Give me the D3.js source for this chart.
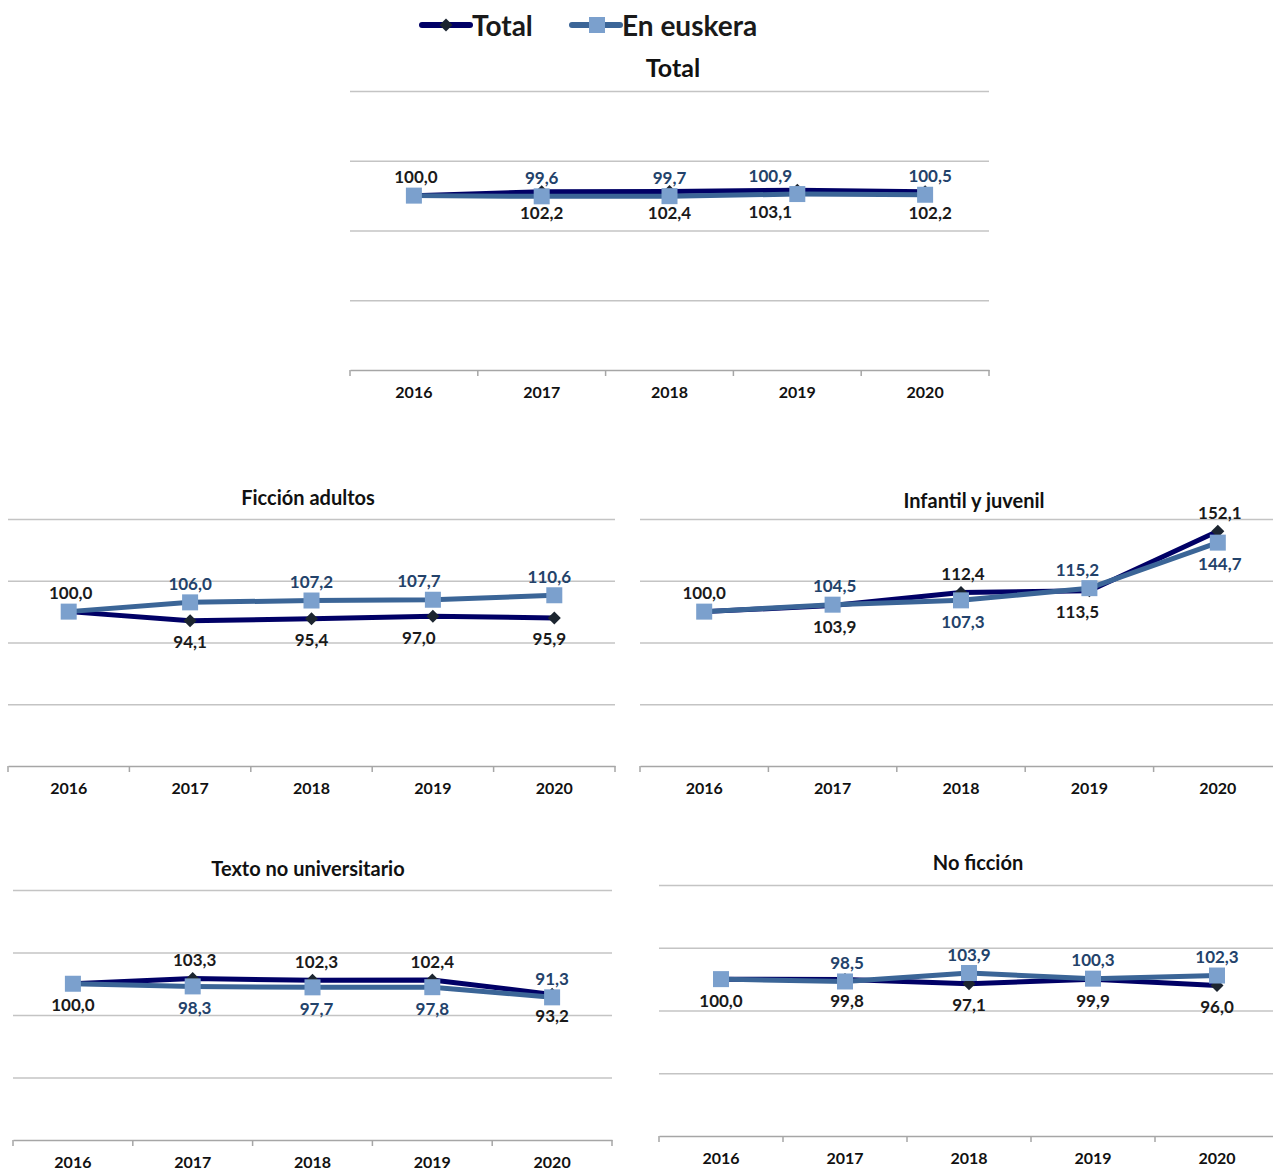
<!DOCTYPE html>
<html>
<head>
<meta charset="UTF-8"/>
<script src="https://cdn.jsdelivr.net/npm/d3@7"></script>
<style>
body{margin:0;background:#fff;}
text{font-family:Lato,"Open Sans",sans-serif;font-weight:bold;}
</style>
</head>
<body>
<script>
// datos
const years = ["2016","2017","2018","2019","2020"];
const yTicks = [40,80,120,160];
const seriesNames = ["Total","En euskera"];

const totalTotal   = [100.0,102.2,102.4,103.1,102.2];
const euskTotal    = [100.0, 99.6, 99.7,100.9,100.5];
const totalFiccion = [100.0, 94.1, 95.4, 97.0, 95.9];
const euskFiccion  = [100.0,106.0,107.2,107.7,110.6];
const totalInfant  = [100.0,103.9,112.4,113.5,152.1];
const euskInfant   = [100.0,104.5,107.3,115.2,144.7];
const totalTexto   = [100.0,103.3,102.3,102.4, 93.2];
const euskTexto    = [100.0, 98.3, 97.7, 97.8, 91.3];
const totalNoFic   = [100.0, 99.8, 97.1, 99.9, 96.0];
const euskNoFic    = [100.0, 98.5,103.9,100.3,102.3];

const colTotal = "#000066", colEusk = "#3b6597";
const mkTotal = "#1c2530", mkEusk = "#7ba0cd";
const lblTotal = "#1a1a1a", lblEusk = "#23426a";

// a: encima, b: debajo; el primer punto (100,0) lleva una sola etiqueta
const panels = [
  {title:"Total", tot:totalTotal, eus:euskTotal, x0:350, x1:989, y0:91, y1:370, tx:673, ty:67, tsize:25,
   lt:["a","b","b","b","b"], le:["-","a","a","a","a"], dx:[2,0,0,-27,5]},
  {title:"Ficción adultos", tot:totalFiccion, eus:euskFiccion, x0:8, x1:615, y0:519, y1:766, tx:308, ty:497, tsize:20,
   lt:["a","b","b","b","b"], le:["-","a","a","a","a"], dx:[2,0,0,-14,-5]},
  {title:"Infantil y juvenil", tot:totalInfant, eus:euskInfant, x0:640, x1:1282, y0:519, y1:766, tx:974, ty:500, tsize:20,
   lt:["a","b","a","b","a"], le:["-","a","b","a","b"], dx:[0,2,2,-12,2]},
  {title:"Texto no universitario", tot:totalTexto, eus:euskTexto, x0:13, x1:612, y0:890, y1:1140, tx:308, ty:868, tsize:20,
   lt:["b","a","a","a","b"], le:["-","b","b","b","a"], dx:[0,2,4,0,0]},
  {title:"No ficción", tot:totalNoFic, eus:euskNoFic, x0:659, x1:1279, y0:885, y1:1136, tx:978, ty:862, tsize:20,
   lt:["b","b","b","b","b"], le:["-","a","a","a","a"], dx:[0,2,0,0,0]}
];

const diamond = d3.symbol(d3.symbolSquare, 85)();

const svg = d3.select("body").append("svg")
  .attr("width",1273).attr("height",1173);

// leyenda
const leg = svg.append("g").attr("class","legend");
[[422,colTotal,"diamond"],[572,colEusk,"square"]].forEach(function(d,i){
  const g = leg.append("g").attr("transform","translate("+d[0]+",25)");
  g.append("line").attr("x1",0).attr("x2",48).attr("stroke",d[1]).attr("stroke-width",6).attr("stroke-linecap","round");
  if(d[2]=="diamond"){
    g.append("path").attr("d",diamond).attr("transform","translate(24,0) rotate(45)").attr("fill",mkTotal);
  } else {
    g.append("rect").attr("x",17).attr("y",-8).attr("width",16).attr("height",16).attr("fill",mkEusk);
  }
  g.append("text").attr("x",50).attr("y",0).attr("dominant-baseline","central")
    .attr("font-size",28).attr("fill","#1a1a1a").text(seriesNames[i]);
});

panels.forEach(function(p){
  const x = d3.scaleBand().domain(years).range([p.x0,p.x1]);
  const y = d3.scaleLinear().domain([0,160]).range([p.y1,p.y0]);
  const g = svg.append("g");

  g.append("text").attr("x",p.tx).attr("y",p.ty).attr("text-anchor","middle")
    .attr("dominant-baseline","central").attr("font-size",p.tsize).attr("fill","#111").text(p.title);

  // rejilla
  const grid = g.append("g").attr("transform","translate("+p.x0+",0)")
    .call(d3.axisLeft(y).tickValues(yTicks).tickSize(-(Math.min(p.x1,1273)-p.x0)).tickFormat(""));
  grid.select(".domain").remove();
  grid.selectAll("line").attr("stroke","#c4c4c4").attr("stroke-width",1.5);

  // eje x
  const ax = g.append("g").attr("transform","translate(0,"+p.y1+")")
    .call(d3.axisBottom(x).tickSize(0).tickPadding(17));
  ax.select(".domain").attr("stroke","#a6a6a6").attr("stroke-width",1.5);
  ax.selectAll("text").attr("font-size",16).attr("fill","#111").attr("font-family","Lato,sans-serif");
  const bounds = years.map(function(c){return x(c);}).concat([p.x1]);
  g.selectAll(".bt").data(bounds).enter().append("line")
    .attr("x1",d => d).attr("x2",d => d).attr("y1",p.y1).attr("y2",p.y1+6)
    .attr("stroke","#a6a6a6").attr("stroke-width",1.5);

  const cx = d => x(d) + x.bandwidth()/2;
  const line = d3.line().x((d,i) => cx(years[i])).y(d => y(d));

  g.append("path").datum(p.tot).attr("d",line).attr("fill","none")
    .attr("stroke",colTotal).attr("stroke-width",5).attr("stroke-linejoin","round");
  g.selectAll(".dm").data(p.tot).enter().append("path")
    .attr("d",diamond)
    .attr("transform",(d,i) => "translate("+cx(years[i])+","+y(d)+") rotate(45)")
    .attr("fill",mkTotal);

  g.append("path").datum(p.eus).attr("d",line).attr("fill","none")
    .attr("stroke",colEusk).attr("stroke-width",5).attr("stroke-linejoin","round");
  g.selectAll(".sq").data(p.eus).enter().append("rect")
    .attr("x",(d,i) => cx(years[i])-8).attr("y",d => y(d)-8)
    .attr("width",16).attr("height",16).attr("fill",mkEusk);

  // etiquetas
  function labels(vals,pos,col){
    const pts = vals.map((v,i) => ({v:v, i:i, pos:pos[i]})).filter(d => d.pos != "-");
    g.selectAll(null).data(pts).enter().append("text")
      .attr("x",d => cx(years[d.i]) + p.dx[d.i])
      .attr("y",d => y(d.v) + (d.pos=="a" ? -19 : 21))
      .attr("text-anchor","middle").attr("dominant-baseline","central")
      .attr("font-size",17).attr("fill",col)
      .text(d => d3.format(".1f")(d.v).replace(".",","));
  }
  labels(p.tot,p.lt,lblTotal);
  labels(p.eus,p.le,lblEusk);
});
</script>
</body>
</html>
